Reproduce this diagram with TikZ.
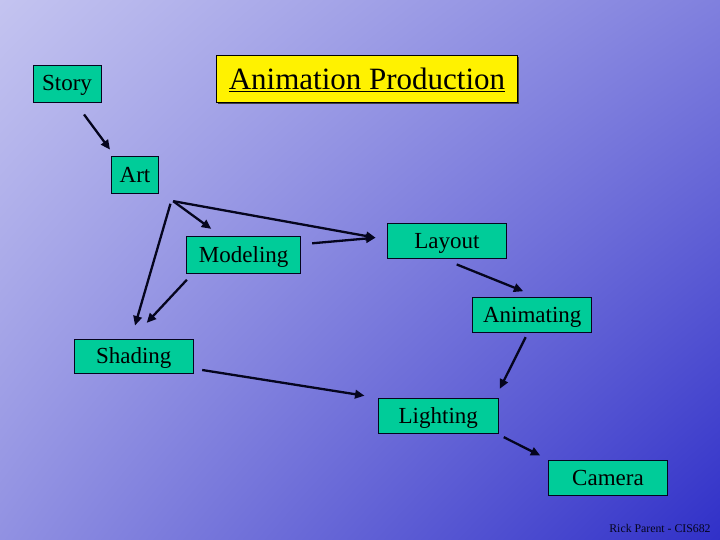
\documentclass[tikz,border=0pt]{standalone}
\usepackage{fontspec}
\setmainfont{Liberation Serif}
\usetikzlibrary{arrows.meta,calc,shadings}
\definecolor{boxgreen}{RGB}{0,204,153}
\definecolor{bgTL}{RGB}{196,196,240}
\definecolor{bgTR}{RGB}{128,128,222}
\definecolor{bgBL}{RGB}{145,145,226}
\definecolor{bgBR}{RGB}{48,48,200}
\definecolor{arrowcol}{RGB}{5,5,30}
\tikzset{
  stagebox/.style={draw=arrowcol, line width=0.9pt, fill=boxgreen, inner sep=0pt,
    font=\fontsize{23}{26}\selectfont, text=black, text height=15pt, text depth=0pt},
  titlebox/.style={draw=black, line width=1.3pt, fill=yellow, inner sep=0pt,
    font=\fontsize{31}{34}\selectfont, text=black, text height=20.5pt, text depth=0pt},
  flow/.style={draw=arrowcol, line width=2.3pt, -{Triangle[length=9.5pt,width=8.5pt]}},
}
\begin{document}
\begin{tikzpicture}[x=1pt,y=-1pt]
\useasboundingbox (0,0) rectangle (720,540);
\shade[upper left=bgTL, upper right=bgTR, lower left=bgBL, lower right=bgBR] (0,0) rectangle (720,540);

% title with slight shadow
\fill[black!75] (218,57.5) rectangle (519,104);
\node[titlebox, minimum width=300.6pt, minimum height=46.6pt] (title) at (367,79) {\underline{Animation Production}};

\node[stagebox, minimum width=68pt, minimum height=37pt] (story) at (67,83.5) {Story};
\node[stagebox, minimum width=46.6pt, minimum height=36.6pt] (art) at (135,175) {Art};
\node[stagebox, minimum width=114pt, minimum height=37.3pt] (modeling) at (243.7,254.7) {Modeling};
\node[stagebox, minimum width=119.4pt, minimum height=35pt] (layout) at (447,240.8) {Layout};
\node[stagebox, minimum width=119pt, minimum height=35.4pt] (animating) at (532.2,315) {Animating};
\node[stagebox, minimum width=119.3pt, minimum height=34pt] (shading) at (133.7,356.3) {Shading};
\node[stagebox, minimum width=120pt, minimum height=35pt] (lighting) at (438.3,415.8) {Lighting};
\node[stagebox, minimum width=119.4pt, minimum height=34.6pt] (camera) at (608,478) {Camera};

\node[font=\fontsize{11.8}{14}\selectfont, text=arrowcol, inner sep=0pt] (credit) at (660,528) {Rick Parent - CIS682};

% connectors
\draw[flow] ($(story.south)+(17,12)$) -- ($(art.north)+(-25,-6.7)$);
\draw[flow] ($(art.south east)+(14.4,7.4)$) -- ($(layout.west)+(-11.3,-3.1)$);
\draw[flow] ($(art.south east)+(14.4,7.4)$) -- ($(modeling.north west)+(25,-6.7)$);
\draw[flow] ($(art.south east)+(11.7,10)$) -- ($(shading.north)+(1.3,-13.3)$);
\draw[flow] ($(modeling.south west)+(0.6,6)$) -- ($(shading.north)+(13,-16)$);
\draw[flow] ($(modeling.east)+(11,-11.4)$) -- ($(layout.west)+(-11.3,-3.1)$);
\draw[flow] ($(layout.south)+(9.7,5.7)$) -- ($(animating.north)+(-8.9,-5.6)$);
\draw[flow] ($(animating.south)+(-6.5,4)$) -- ($(lighting.north east)+(1,-9)$);
\draw[flow] ($(shading.east)+(8.4,13.7)$) -- ($(lighting.west)+(-13.3,-20.1)$);
\draw[flow] ($(lighting.south east)+(5,3.4)$) -- ($(camera.north west)+(-7.6,-4.7)$);
\end{tikzpicture}
\end{document}
